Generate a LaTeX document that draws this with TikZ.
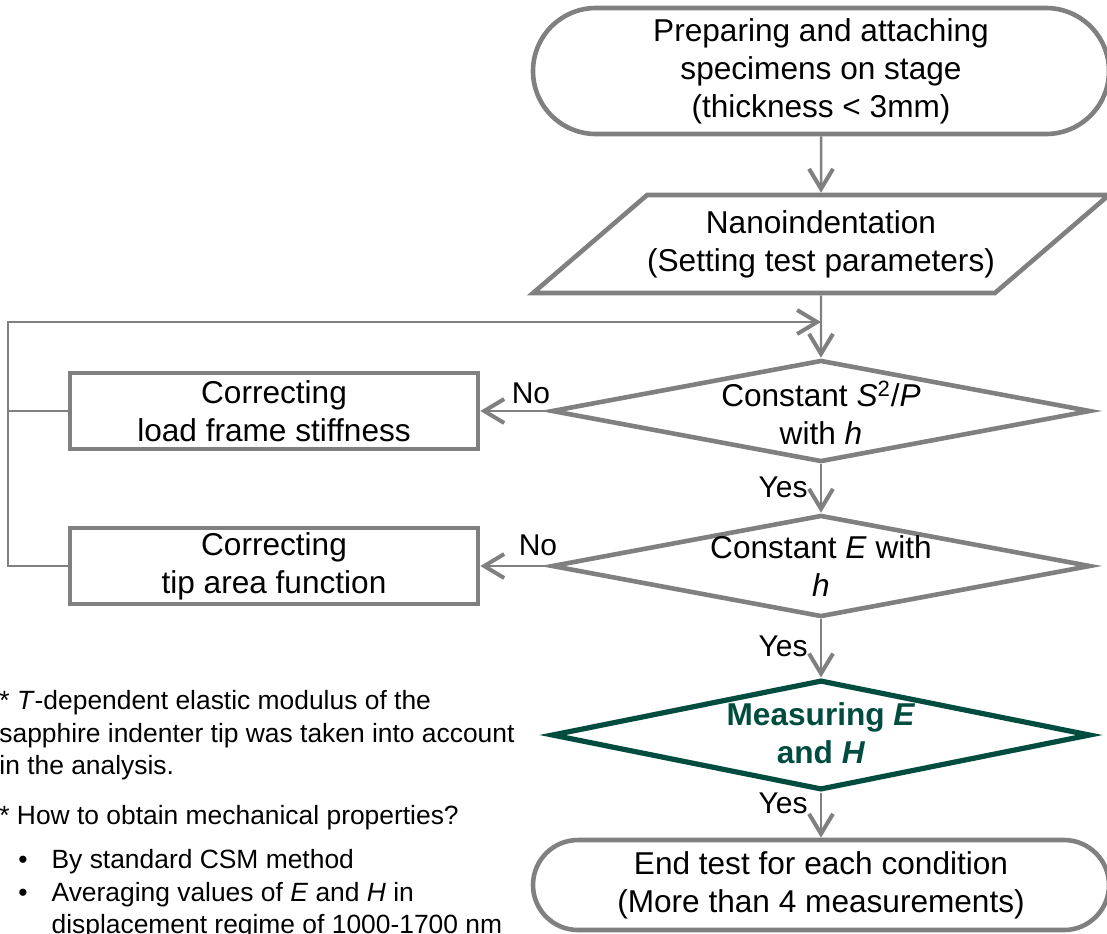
\documentclass[tikz,border=0pt]{standalone}
\usepackage{fontspec}
\setmainfont{Liberation Sans}
\usetikzlibrary{arrows.meta, shapes.geometric, shapes.misc, positioning}
\definecolor{linegray}{RGB}{128,128,128}
\definecolor{measgreen}{RGB}{0,76,62}

\begin{document}
\begin{tikzpicture}[x=0.5pt, y=-0.5pt,
  flow/.style={draw=linegray, line width=2.3pt, align=center, inner sep=0pt, font=\fontsize{15.8}{19}\selectfont},
  terminal/.style={flow, rounded rectangle, minimum width=288pt},
  inout/.style={flow, trapezium, trapezium left angle=30.6, trapezium right angle=149.4, trapezium stretches=true, minimum width=287.5pt, minimum height=49pt},
  decision/.style={flow, diamond, minimum width=269.5pt, minimum height=51pt},
  fixbox/.style={flow, rectangle, minimum width=204pt, minimum height=38pt},
  dtext/.style={align=center, inner sep=0pt, font=\fontsize{15.8}{19}\selectfont},
  arr/.style={draw=linegray, line width=1.2pt, -{Straight Barb[length=10pt, width=12pt, line width=2pt]}},
  lbl/.style={inner sep=0pt, font=\fontsize{15}{18}\selectfont},
  note/.style={align=left, inner sep=0pt, anchor=north west, font=\fontsize{13.2}{16.3}\selectfont}]
  \useasboundingbox (0,0) rectangle (1107,933);

  \node[terminal, minimum height=63pt] (start) at (821,71) {Preparing and attaching\\specimens on stage\\(thickness < 3mm)};
  \node[inout] (nano) at (821,244) {Nanoindentation\\(Setting test parameters)};
  \node[decision] (stiff) at (821,411) {};
  \node[dtext] (stifftxt) at (821,413) {Constant \textit{S}\textsuperscript{2}/\textit{P}\\with \textit{h}};
  \node[decision] (modul) at (821,566) {};
  \node[dtext] (modultxt) at (821,566) {Constant \textit{E} with\\\textit{h}};
  \node[decision, draw=measgreen, line width=2.6pt, minimum height=55pt] (meas) at (821,735) {};
  \node[dtext, text=measgreen, font=\fontsize{15.8}{19}\selectfont\bfseries] (meastxt) at (821,733) {Measuring \textit{E}\\and \textit{H}};
  \node[terminal, minimum height=45pt] (finish) at (821,885) {End test for each condition\\(More than 4 measurements)};

  \node[fixbox] (frame) at (274,411) {Correcting\\load frame stiffness};
  \node[fixbox] (area) at (274,566) {Correcting\\tip area function};

  \coordinate (loop) at (8,322);
  \coordinate (merge) at (821,322);

  \draw[arr] (start) -- (nano);
  \draw[arr] (nano) -- (stiff);
  \draw[arr] (stiff) -- (modul);
  \draw[arr] (modul) -- (meas);
  \draw[arr] (meas) -- (finish);
  \draw[arr] (stiff) -- (frame);
  \draw[arr] (modul) -- (area);
  \draw[arr] (area.west) -| (loop) -- (merge);
  \draw[draw=linegray, line width=1.2pt] (frame.west) -- (frame.west -| loop);

  \node[lbl] (no1) at (531,393) {No};
  \node[lbl] (no2) at (538,545) {No};
  \node[lbl] (yes1) at (783,487) {Yes};
  \node[lbl] (yes2) at (783,646) {Yes};
  \node[lbl] (yes3) at (783,803) {Yes};

  \node[note] (tnote) at (-1,690) {* \textit{T}-dependent elastic modulus of the\\sapphire indenter tip was taken into account\\in the analysis.};
  \node[note] (howto) at (-1,805) {* How to obtain mechanical properties?};
  \node[note] (items) at (18,849) {\textbullet\hspace{12pt}By standard CSM method\\\textbullet\hspace{12pt}Averaging values of \textit{E} and \textit{H} in\\\phantom{\textbullet}\hspace{12pt}displacement regime of 1000-1700 nm};
\end{tikzpicture}
\end{document}
